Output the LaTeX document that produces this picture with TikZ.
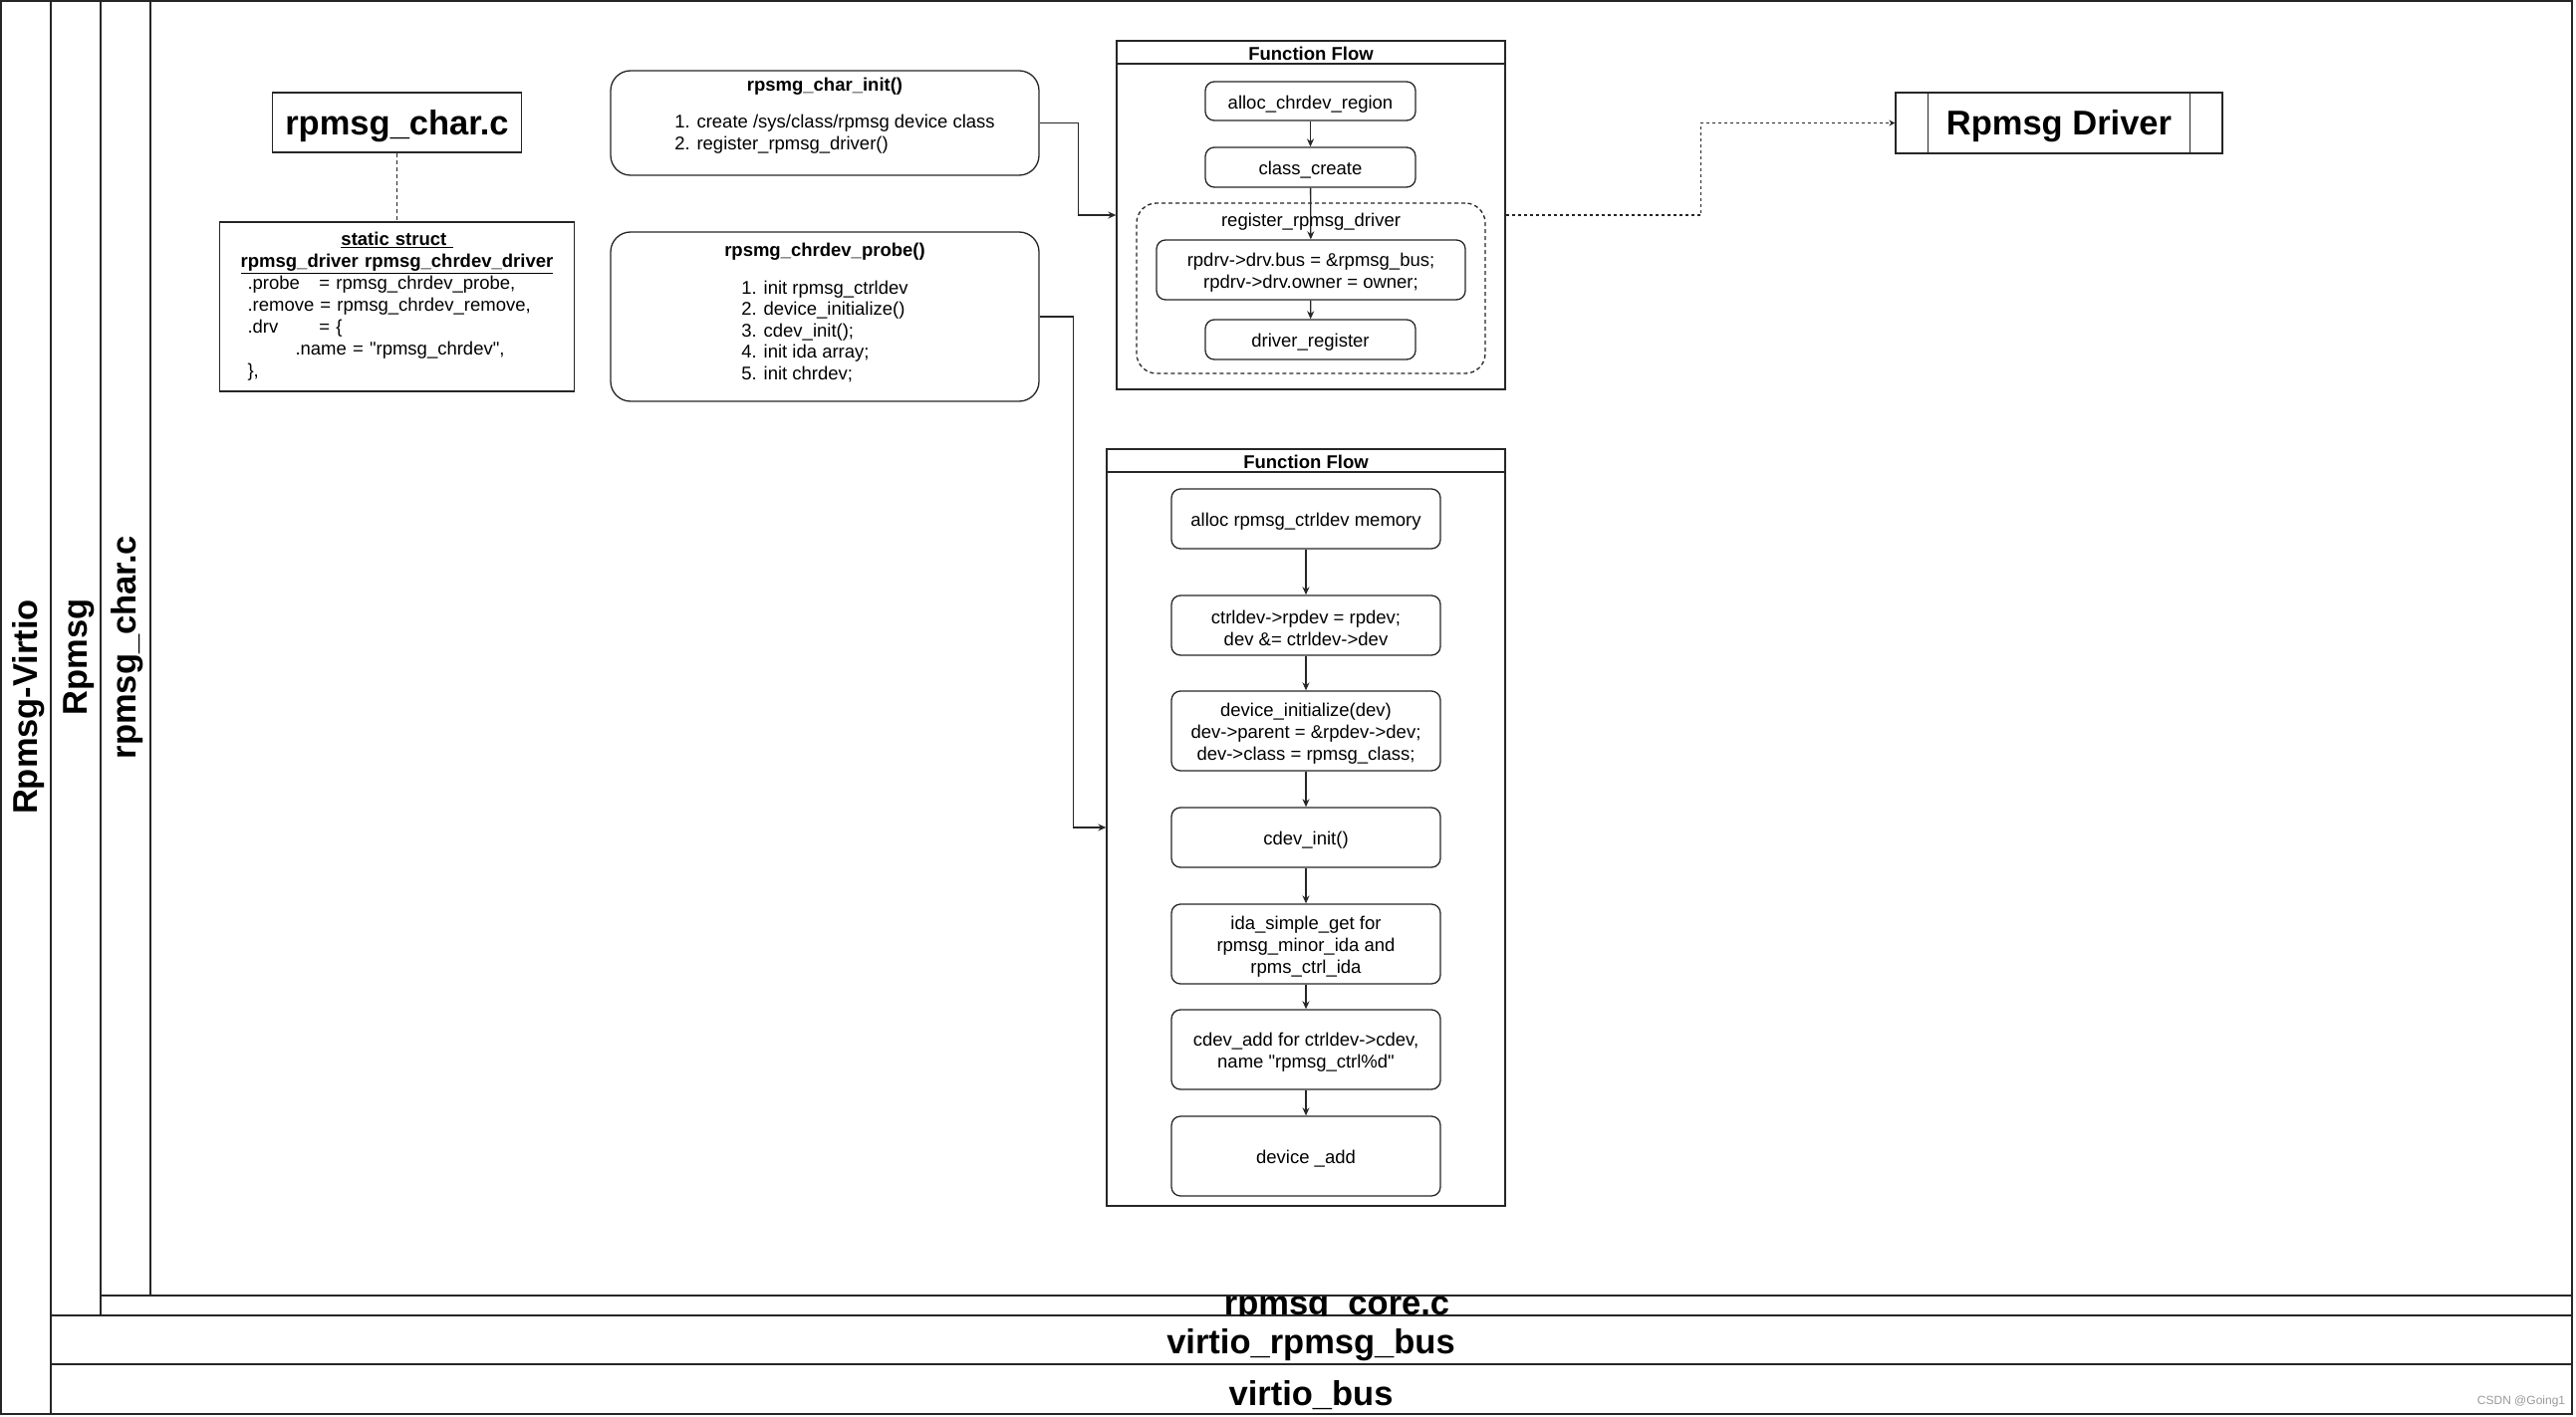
\documentclass[tikz,border=0pt]{standalone}
\usepackage{fontspec}
\setmainfont{Liberation Sans}
\usetikzlibrary{arrows.meta}

\tikzset{
  lane/.style={draw=black!85, line width=1.6pt},
  lanetext/.style={font=\fontsize{34.5}{40}\selectfont\bfseries},
  bigbox/.style={lanetext, text height=32pt, text depth=7pt},
  plainbox/.style={draw=black!85, line width=1.3pt, font=\fontsize{18.5}{22}\selectfont},
  codebox/.style={plainbox, font=\fontsize{18.5}{21.5}\selectfont, rounded corners=20pt, minimum width=430pt, align=center},
  flowbox/.style={plainbox, rounded corners=9pt, align=center},
  oneline/.style={text height=19pt},
  twolines/.style={text height=41pt},
  threelines/.style={text height=63pt},
  flowtitle/.style={plainbox, font=\fontsize{18.5}{22}\selectfont\bfseries, minimum height=23pt, inner sep=0pt, text height=15.5pt},
  flow/.style={draw=black!85, line width=1.3pt, -{Stealth[length=8pt,width=7pt]}},
  dashline/.style={draw=black!85, line width=1.3pt, dash pattern=on 4pt off 3pt},
  dotline/.style={draw=black!85, line width=1.3pt, dash pattern=on 3pt off 3pt},
}

\begin{document}
\begin{tikzpicture}[x=1pt, y=-1pt]
  \useasboundingbox (0,0) rectangle (2586,1423);
  % swimlanes
  \draw[lane] (1,1) rectangle (2582,1420);
  \draw[lane] (51,1) -- (51,1420);
  \draw[lane] (101,1) -- (101,1321);
  \draw[lane] (151,1) -- (151,1301);
  \draw[lane] (101,1301) -- (2582,1301);
  \draw[lane] (51,1321) -- (2582,1321);
  \draw[lane] (51,1370) -- (2582,1370);
  \node[lanetext, rotate=90] (virtiolane) at (29,710) {Rpmsg-Virtio};
  \node[lanetext, rotate=90] (rpmsglane) at (79,660) {Rpmsg};
  \node[lanetext, rotate=90] (charlane) at (128,650) {rpmsg\_char.c};
  \begin{scope}
    \clip (101,1302) rectangle (2582,1321);
    \node[lanetext, anchor=base] (corelane) at (1342,1320) {rpmsg\_core.c};
  \end{scope}
  \node[lanetext] (buslane) at (1316,1351) {virtio\_rpmsg\_bus};
  \node[lanetext] (virtiobus) at (1316,1401) {virtio\_bus};

  % rpmsg_char.c and its driver struct
  \node[plainbox, bigbox, minimum width=250pt, minimum height=60pt] (charfile) at (398.5,123) {rpmsg\_char.c};
  \node[plainbox, minimum width=356pt, minimum height=170pt, text width=300pt, align=left] (drvstruct) at (398.5,308) {%
    \makebox[300pt]{\bfseries\underline{static struct\ }}\\
    \makebox[300pt]{\bfseries\underline{rpmsg\_driver rpmsg\_chrdev\_driver}}\\
    \makebox[72pt][l]{.probe}= rpmsg\_chrdev\_probe,\\
    .remove = rpmsg\_chrdev\_remove,\\
    \makebox[72pt][l]{.drv}= \{\\
    \hspace*{48pt}.name = \textquotedbl rpmsg\_chrdev\textquotedbl,\\
    \},};
  \draw[dashline] (charfile) -- (drvstruct);

  % init and probe
  \node[codebox, minimum height=105pt, text depth=40pt] (initbox) at (828,123.5) {\textbf{rpsmg\_char\_init()}\\[16pt]
    \hspace*{20pt}\begin{tabular}[t]{@{}l@{}}1. create /sys/class/rpmsg device class\\2. register\_rpmsg\_driver()\end{tabular}};
  \node[codebox, minimum height=170pt, text depth=96pt] (probebox) at (828,318) {\textbf{rpsmg\_chrdev\_probe()}\\[16pt]
    \begin{tabular}[t]{@{}l@{}}1. init rpmsg\_ctrldev\\2. device\_initialize()\\3. cdev\_init();\\4. init ida array;\\5. init chrdev;\end{tabular}};

  % function flow of init
  \node[plainbox, minimum width=390pt, minimum height=350pt] (flowA) at (1316,216) {};
  \node[flowtitle, minimum width=390pt, anchor=north] (flowAtitle) at (flowA.north) {Function Flow};
  \node[flowbox, oneline, minimum width=211pt, minimum height=39pt] (alloc) at (1315.5,101.5) {alloc\_chrdev\_region};
  \node[flowbox, oneline, minimum width=211pt, minimum height=40pt] (classcr) at (1315.5,168) {class\_create};
  \node[plainbox, rounded corners=20pt, dashline, minimum width=350pt, minimum height=171pt] (regdrv) at (1316,289.5) {};
  \node[font=\fontsize{18.5}{22}\selectfont] (reglabel) at (1316,222.5) {register\_rpmsg\_driver};
  \node[flowbox, twolines, minimum width=310pt, minimum height=60pt] (rpdrv) at (1316,271) {rpdrv->drv.bus = \&rpmsg\_bus;\\rpdrv->drv.owner = owner;};
  \node[flowbox, oneline, minimum width=211pt, minimum height=40pt] (drvreg) at (1315.5,341) {driver\_register};
  \draw[flow] (alloc) -- (classcr);
  \draw[flow] (classcr) -- (rpdrv);
  \draw[flow] (rpdrv) -- (drvreg);

  % function flow of probe
  \node[plainbox, minimum width=400pt, minimum height=760pt] (flowB) at (1311,831) {};
  \node[flowtitle, minimum width=400pt, anchor=north] (flowBtitle) at (flowB.north) {Function Flow};
  \node[flowbox, oneline, minimum width=270pt, minimum height=60pt] (allocmem) at (1311,521) {alloc rpmsg\_ctrldev memory};
  \node[flowbox, twolines, minimum width=270pt, minimum height=60pt] (setrpdev) at (1311,628) {ctrldev->rpdev = rpdev;\\dev \&= ctrldev->dev};
  \node[flowbox, threelines, minimum width=270pt, minimum height=80pt] (devinit) at (1311,734) {device\_initialize(dev)\\dev->parent = \&rpdev->dev;\\dev->class = rpmsg\_class;};
  \node[flowbox, oneline, minimum width=270pt, minimum height=60pt] (cdevinit) at (1311,841) {cdev\_init()};
  \node[flowbox, threelines, minimum width=270pt, minimum height=80pt] (idaget) at (1311,948) {ida\_simple\_get for\\rpmsg\_minor\_ida and\\rpms\_ctrl\_ida};
  \node[flowbox, twolines, minimum width=270pt, minimum height=80pt] (cdevadd) at (1311,1054) {cdev\_add for ctrldev->cdev,\\name \textquotedbl rpmsg\_ctrl\%d\textquotedbl};
  \node[flowbox, oneline, minimum width=270pt, minimum height=80pt] (devadd) at (1311,1161) {device \_add};
  \draw[flow] (allocmem) -- (setrpdev);
  \draw[flow] (setrpdev) -- (devinit);
  \draw[flow] (devinit) -- (cdevinit);
  \draw[flow] (cdevinit) -- (idaget);
  \draw[flow] (idaget) -- (cdevadd);
  \draw[flow] (cdevadd) -- (devadd);

  % driver
  \node[plainbox, bigbox, minimum width=328pt, minimum height=61pt] (driver) at (2067,123.5) {Rpmsg Driver};
  \draw[plainbox] ([xshift=33pt]driver.north west) -- ([xshift=33pt]driver.south west);
  \draw[plainbox] ([xshift=-33pt]driver.north east) -- ([xshift=-33pt]driver.south east);

  % connectors
  \draw[flow] (initbox.east) -- ++(39,0) |- (flowA.west);
  \draw[flow] (probebox.east) -- ++(34,0) |- (flowB.west);
  \draw[dotline, -{Stealth[length=6pt,width=6pt]}] (flowA.east) -- ++(196,0) |- (driver.west);

  \node[text=black!40, font=\fontsize{12}{14}\selectfont] (mark) at (2531,1407) {CSDN @Going1};
\end{tikzpicture}
\end{document}
